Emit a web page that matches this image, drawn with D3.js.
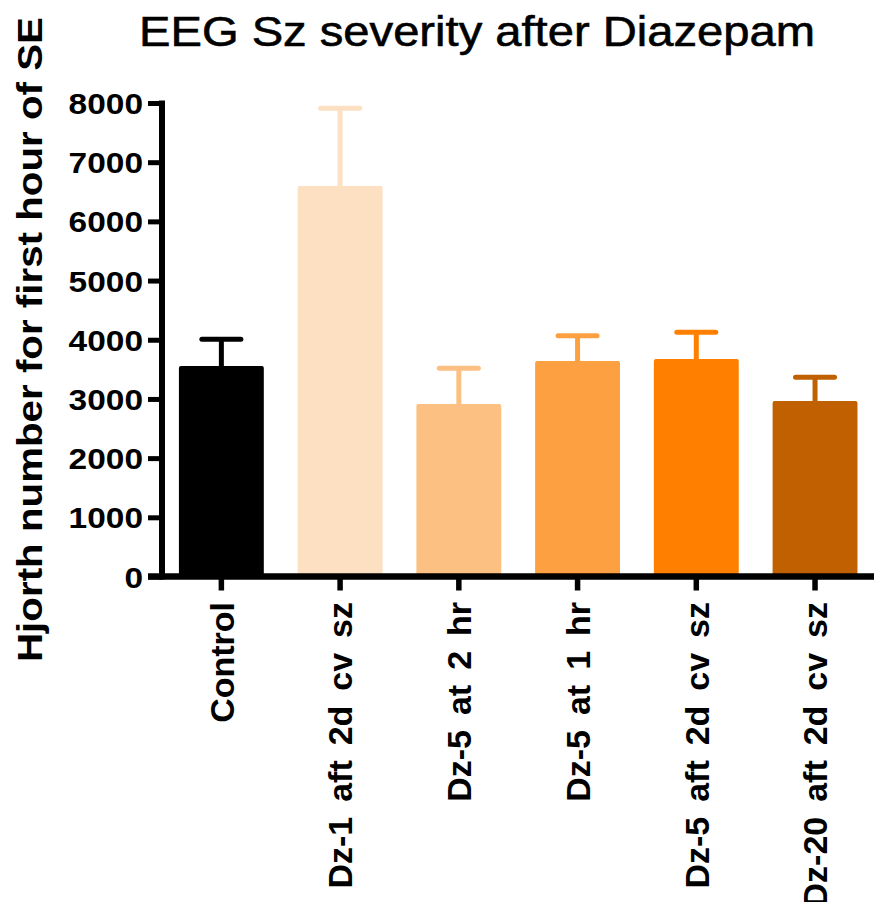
<!DOCTYPE html>
<html>
<head>
<meta charset="utf-8">
<script src="https://cdn.jsdelivr.net/npm/d3@7"></script>
<style>
  html, body { margin: 0; padding: 0; background: #fff; }
  svg { display: block; font-family: Arial, "Liberation Sans", sans-serif; }
</style>
</head>
<body>
<svg id="chart" width="874" height="902"></svg>
<script>
// Groups, mean Hjorth number and upper SEM for the first hour of SE
const categories = [
  "Control",
  "Dz-1 aft 2d cv sz",
  "Dz-5 at 2 hr",
  "Dz-5 at 1 hr",
  "Dz-5 aft 2d cv sz",
  "Dz-20 aft 2d cv sz"
];
const means = [3555, 6597, 2914, 3641, 3675, 2965];
const sems  = [452, 1313, 603, 427, 451, 400];
const colors = ["#000000", "#FDDFC1", "#FDC083", "#FDA042", "#FF8000", "#C06000"];
const yTicks = [0, 1000, 2000, 3000, 4000, 5000, 6000, 7000, 8000];

const titleText = "EEG Sz severity after Diazepam";
const yTitleText = "Hjorth number for first hour of SE";

const svg = d3.select("#chart");

const plotLeft = 162, plotRight = 874.4, plotTop = 103, plotBottom = 576.5;

const x = d3.scaleBand()
  .domain(categories)
  .range([plotLeft, plotRight])
  .paddingInner(0.285)
  .paddingOuter(0.1425);

const y = d3.scaleLinear().domain([0, 8000]).range([plotBottom, plotTop]);

// Bars
svg.append("g").selectAll("rect")
  .data(categories)
  .join("rect")
  .attr("x", d => x(d))
  .attr("width", x.bandwidth())
  .attr("y", (d, i) => y(means[i]))
  .attr("height", (d, i) => y(0) - y(means[i]))
  .attr("rx", 2)
  .attr("fill", (d, i) => colors[i]);

// Upper error bars
const capHalf = 19.5;
const eb = svg.append("g");
categories.forEach((c, i) => {
  const cx = x(c) + x.bandwidth() / 2;
  eb.append("line")
    .attr("x1", cx).attr("x2", cx)
    .attr("y1", y(means[i])).attr("y2", y(means[i] + sems[i]))
    .attr("stroke", colors[i]).attr("stroke-width", 5);
  eb.append("line")
    .attr("x1", cx - capHalf).attr("x2", cx + capHalf)
    .attr("y1", y(means[i] + sems[i])).attr("y2", y(means[i] + sems[i]))
    .attr("stroke", colors[i]).attr("stroke-width", 5)
    .attr("stroke-linecap", "round");
});

// Y axis
const tickLen = 14;
const yAxis = svg.append("g")
  .attr("transform", `translate(${plotLeft},0)`)
  .call(d3.axisLeft(y).tickValues(yTicks).tickFormat(d3.format("d"))
    .tickSize(tickLen).tickSizeOuter(0).tickPadding(5));
yAxis.select(".domain")
  .attr("stroke", "#000").attr("stroke-width", 6)
  .attr("d", `M0,${plotTop - 2.5}V${plotBottom + 3}`);
yAxis.selectAll(".tick line").attr("stroke", "#000").attr("stroke-width", 5);
yAxis.selectAll(".tick text")
  .attr("fill", "#000")
  .attr("font-size", 30)
  .attr("font-weight", "bold")
  .attr("dy", "0.35em")
  .attr("textLength", d => String(d).length * 18.6)
  .attr("lengthAdjust", "spacingAndGlyphs");

// X axis
const xAxis = svg.append("g")
  .attr("transform", `translate(0,${plotBottom})`)
  .call(d3.axisBottom(x).tickSize(tickLen).tickSizeOuter(0).tickPadding(0));
xAxis.select(".domain")
  .attr("stroke", "#000").attr("stroke-width", 6.5)
  .attr("d", `M${plotLeft - tickLen},0H${plotRight}`);
xAxis.selectAll(".tick line").attr("stroke", "#000").attr("stroke-width", 5.5);
xAxis.selectAll(".tick text")
  .attr("fill", "#000")
  .attr("font-size", 34)
  .attr("font-weight", "bold")
  .attr("text-anchor", "end")
  .attr("transform", "rotate(-90)")
  .attr("x", -25.5)
  .attr("y", 0)
  .attr("dy", "0.36em")
  .style("word-spacing", "5.5px");

// Title
svg.append("text")
  .attr("x", 477).attr("y", 46)
  .attr("text-anchor", "middle")
  .attr("font-size", 43)
  .attr("stroke", "#000")
  .attr("stroke-width", 0.6)
  .attr("textLength", 676)
  .attr("lengthAdjust", "spacingAndGlyphs")
  .text(titleText);

// Y axis title
svg.append("text")
  .attr("transform", `translate(42,${(17 + 662) / 2}) rotate(-90)`)
  .attr("text-anchor", "middle")
  .attr("font-size", 35)
  .attr("font-weight", "bold")
  .attr("textLength", 645)
  .attr("lengthAdjust", "spacingAndGlyphs")
  .text(yTitleText);
</script>
</body>
</html>
